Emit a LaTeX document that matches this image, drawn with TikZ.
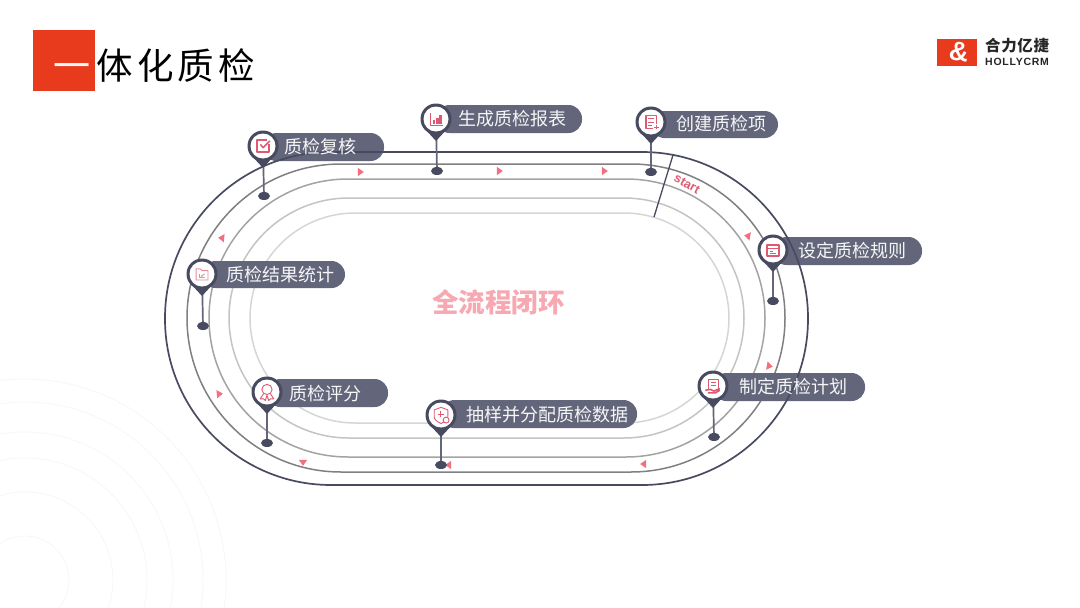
\documentclass[tikz,border=0pt]{standalone}
\usepackage{fontspec}
\newfontfamily\cjk{Noto Sans CJK SC}
\newfontfamily\titlefont[LetterSpace=12]{Noto Sans CJK SC}
\newfontfamily\logofont[LetterSpace=7]{Liberation Sans}
\newfontfamily\logocjk[LetterSpace=4]{Noto Sans CJK SC}
\newfontfamily\startfont{Liberation Sans}
\usetikzlibrary{calc,positioning,shapes.geometric}
\definecolor{pindark}{HTML}{484B60}
\definecolor{pillfill}{HTML}{63667A}
\definecolor{tipred}{HTML}{F0707F}
\definecolor{iconred}{HTML}{DE5A72}
\definecolor{brandred}{HTML}{E83B1E}
\tikzset{
	trackone/.style={draw=pindark,line width=1.7pt,rounded corners=166pt},
	tracktwo/.style={draw=black!50,line width=1.5pt,rounded corners=154pt},
	trackthree/.style={draw=black!36,line width=1.5pt,rounded corners=139pt},
	trackfour/.style={draw=black!23,line width=1.5pt,rounded corners=120pt},
	trackfive/.style={draw=black!16,line width=1.5pt,rounded corners=105pt},
	ripple/.style={draw=black!3,line width=.8pt},
	pillbar/.style={fill=pillfill,rounded corners=13.5pt},
	pilltext/.style={font=\cjk\fontsize{18}{20}\selectfont,text=white!94!pillfill,inner sep=0pt,anchor=west},
	pinhead/.style={circle,fill=pindark,inner sep=0pt,minimum size=31pt},
	pinface/.style={circle,fill=white,inner sep=0pt,minimum size=25pt},
	pinfoot/.style={ellipse,fill=pindark,inner sep=0pt,minimum width=12pt,minimum height=8pt},
	pinstalk/.style={draw=pindark!85,line width=1.7pt},
	flowtip/.style={isosceles triangle,fill=tipred,inner sep=0pt,minimum height=6pt,minimum width=6pt,isosceles triangle apex angle=70},
	iconline/.style={draw=iconred,line width=.9pt,line join=round},
}
\newcommand{\pinmark}[3]{%
	\node[pinhead] (#1head) at (#2) {};
	\node[pinfoot] (#1foot) at (#3) {};
	\draw[pinstalk] (#1head) to (#1foot);
	\fill[pindark] ($(#1head)+(-11.5,9.5)$) -- ($(#1head)+(0,22)$) -- ($(#1head)+(11.5,9.5)$) -- cycle;
	\node[pinface] (#1face) at (#1head) {};
}
\begin{document}
\begin{tikzpicture}[x=1pt,y=-1pt]
	\useasboundingbox (0,0) rectangle (1080,608);
	\fill[white] (0,0) rectangle (1080,608);
	% ripples
	\begin{scope}
		\clip (0,370) rectangle (240,608);
		\draw[ripple] (25,580) circle (44);
		\draw[ripple] (25,580) circle (88);
		\draw[ripple] (25,580) circle (122);
		\draw[ripple] (25,580) circle (148);
		\draw[ripple] (25,580) circle (178);
		\draw[ripple] (25,580) circle (201);
	\end{scope}
	% title
	\fill[brandred] (33,30) rectangle (95,91);
	\node[font=\cjk\fontsize{37}{40}\selectfont,text=white!95!brandred,inner sep=0pt] (titledash) at (72,72) {一};
	\node[font=\titlefont\fontsize{36.5}{40}\selectfont,inner sep=0pt,anchor=west] (titletext) at (96,66) {体化质检};
	% logo
	\fill[brandred] (937,39) rectangle (977,66);
	\node[font=\startfont\bfseries\fontsize{27}{27}\selectfont,text=white,rotate=-8,inner sep=0pt] (logomark) at (959,52) {\&};
	\node[font=\logocjk\bfseries\fontsize{15.5}{16}\selectfont,inner sep=0pt,anchor=west,text=black!85] (logoname) at (985,46) {合力亿捷};
	\node[font=\logofont\bfseries\fontsize{10.5}{11}\selectfont,inner sep=0pt,anchor=west,text=black!85] (logosub) at (985,62) {HOLLYCRM};
	% tracks
	\draw[trackfive] (250,213) rectangle (729,423);
	\draw[trackfour] (229,198) rectangle (744,438);
	\draw[trackthree] (209,179) rectangle (765,457);
	\draw[tracktwo] (187,164) rectangle (785,472);
	\coordinate (startup) at (673,155);
	\coordinate (startlow) at (654,217);
	\draw[draw=pindark,line width=1.3pt] (startup) to (startlow);
	\node[font=\startfont\bfseries\fontsize{12.5}{12.5}\selectfont,text=iconred,rotate=-29,inner sep=0pt] (starttext) at (687,184) {start};
	% bars
	\fill[pillbar] (263,133) rectangle (384,161);
	\fill[pillbar] (436,105) rectangle (582,133);
	\fill[pillbar] (651,111) rectangle (778,138);
	\fill[pillbar] (773,237) rectangle (922,265);
	\fill[pillbar] (713,373) rectangle (865,401);
	\fill[pillbar] (441,400) rectangle (637,428);
	\fill[pillbar] (267,379) rectangle (388,407);
	\fill[pillbar] (202,261) rectangle (345,288);
	\draw[trackone] (165,152) rectangle (808,485);
	% arrows on the track
	\node[flowtip] (tipa) at (360,172) {};
	\node[flowtip] (tipb) at (499,171) {};
	\node[flowtip] (tipc) at (604,171) {};
	\node[flowtip,rotate=170] (tipd) at (748,236) {};
	\node[flowtip,rotate=-10] (tipe) at (769,366) {};
	\node[flowtip,rotate=180] (tipf) at (644,464) {};
	\node[flowtip,rotate=180] (tipg) at (449,465) {};
	\node[flowtip,rotate=-90] (tiph) at (303,462) {};
	\node[flowtip,rotate=5] (tipi) at (219,394) {};
	\node[flowtip,rotate=175] (tipj) at (222,238) {};
	% pins
	\pinmark{check}{263,146}{264,196}
	\pinmark{report}{436,119}{437,171}
	\pinmark{item}{651,122}{651,172}
	\pinmark{rule}{773,250}{773,301}
	\pinmark{plan}{713,386}{714,437}
	\pinmark{sample}{441,415}{441,465}
	\pinmark{score}{267,392}{267,443}
	\pinmark{stat}{202,274}{203,326}
	\node[pilltext] (checktext) at (284,147) {质检复核};
	\node[pilltext] (reporttext) at (458,119) {生成质检报表};
	\node[pilltext] (itemtext) at (676,124) {创建质检项};
	\node[pilltext] (ruletext) at (798,251) {设定质检规则};
	\node[pilltext] (plantext) at (739,387) {制定质检计划};
	\node[pilltext] (sampletext) at (466,415) {抽样并分配质检数据};
	\node[pilltext] (scoretext) at (289,394) {质检评分};
	\node[pilltext] (stattext) at (226,275) {质检结果统计};
	% icons
	\begin{scope}[shift={(263,146)},scale=.85]
		\draw[iconline,line width=1.2pt] (5,-7) -- (-7,-7) -- (-7,7) -- (7,7) -- (7,-2);
		\draw[iconline,line width=1.5pt] (-3,-2) -- (0,2) -- (8,-6);
	\end{scope}
	\begin{scope}[shift={(436,119)},scale=.85]
		\draw[iconline] (-7,-7) -- (-7,7) -- (8,7);
		\fill[iconred] (-4,1) rectangle (-1,6);
		\fill[iconred] (0,-1) rectangle (3,6);
		\fill[iconred] (4,-5) rectangle (7,6);
	\end{scope}
	\begin{scope}[shift={(651,122)},scale=.85]
		\draw[iconline,line width=1.2pt] (6,2) -- (6,-8) -- (-6,-8) -- (-6,8) -- (2,8);
		\draw[iconline] (-3,-4) -- (3,-4) (-3,0) -- (3,0) (-3,4) -- (1,4);
		\draw[iconline] (4,6) -- (9,6) (6.5,3.5) -- (6.5,8.5);
	\end{scope}
	\begin{scope}[shift={(773,250)},scale=.85]
		\draw[iconline,line width=1.2pt] (-7,-6) rectangle (7,7);
		\draw[iconline] (-7,-2) -- (7,-2) (-4,2) -- (0,2) (-4,4.5) -- (4,4.5);
	\end{scope}
	\begin{scope}[shift={(713,386)},scale=.85]
		\draw[iconline] (-5,3) -- (-5,-8) -- (6,-8) -- (6,3);
		\draw[iconline] (-2,-4) -- (3,-4) (-2,-1) -- (3,-1);
		\draw[iconline,line width=1.6pt] (-9,5) -- (-3,4) -- (1,6) -- (8,3) (-6,8) -- (3,8) -- (8,5);
	\end{scope}
	\begin{scope}[shift={(441,415)},scale=.85]
		\draw[iconline] (0,-9) -- (-8,-6) -- (-8,2) .. controls (-8,6) and (-4,8) .. (0,10) .. controls (4,8) and (8,6) .. (8,2) -- (8,-6) -- cycle;
		\draw[iconline] (-4,-1) -- (3,-1) (-.5,-4.5) -- (-.5,2.5);
		\draw[iconline,fill=white] (6,6) circle (3.5);
	\end{scope}
	\begin{scope}[shift={(267,392)},scale=.85]
		\draw[iconline] (0,-3) circle (6);
		\draw[iconline] (-4,2) -- (-8,8) -- (-4,8) -- (-2,10) -- (0,4) -- (2,10) -- (4,8) -- (8,8) -- (4,2);
	\end{scope}
	\begin{scope}[shift={(202,274)},scale=.85]
		\draw[iconline,draw=iconred!70] (-7,-6) -- (-2,-6) -- (0,-4) -- (7,-4) -- (7,7) -- (-7,7) -- cycle;
		\draw[iconline,draw=iconred!70] (-3,0) -- (-3,4) -- (3,4) (-1,2.5) -- (3,0);
	\end{scope}
	% centre
	\node[font=\cjk\bfseries\fontsize{26.5}{28}\selectfont,text=tipred!60,inner sep=0pt] (loopname) at (498.5,302) {全流程闭环};
\end{tikzpicture}
\end{document}
